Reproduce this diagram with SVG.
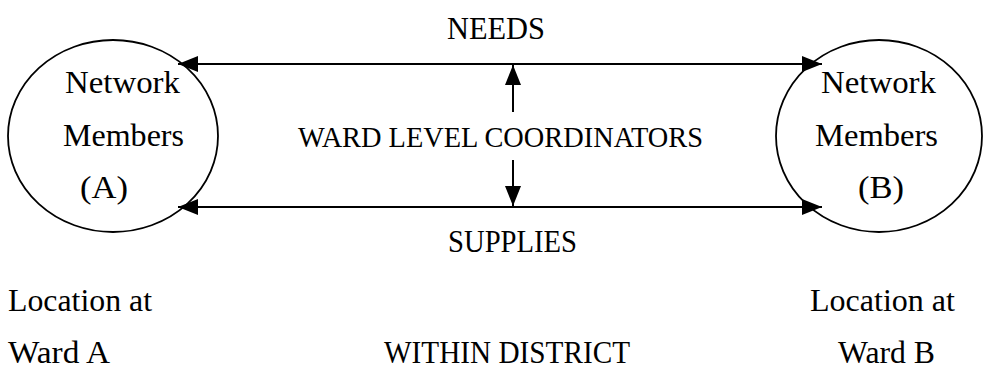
<svg xmlns="http://www.w3.org/2000/svg" width="984" height="371" viewBox="0 0 984 371">
<style>
text{font-family:'Liberation Serif','Times New Roman',Times,serif;font-size:31px;fill:#000}
.m{font-size:30px}
.s{font-size:30.5px}
.node{fill:none;stroke:#000;stroke-width:1.8}
.ln{stroke:#000;stroke-width:2;fill:none}
</style>
<defs>
<marker id="ah" viewBox="0 0 20 16" refX="20" refY="8" markerWidth="20" markerHeight="16" markerUnits="userSpaceOnUse" orient="auto-start-reverse">
<path d="M0,0 L20,8 L0,16 Z" fill="#000"/>
</marker>
</defs>
<rect width="984" height="371" fill="#fff"/>
<g id="nodeA">
<ellipse class="node" cx="113" cy="136" rx="105" ry="96"/>
<text x="65" y="93" textLength="115" lengthAdjust="spacingAndGlyphs">Network</text>
<text x="63" y="146" textLength="121" lengthAdjust="spacingAndGlyphs">Members</text>
<text x="80" y="198" textLength="48" lengthAdjust="spacingAndGlyphs">(A)</text>
</g>
<g id="nodeB">
<ellipse class="node" cx="879" cy="136" rx="103" ry="96"/>
<text x="821" y="93" textLength="115" lengthAdjust="spacingAndGlyphs">Network</text>
<text x="815" y="146" textLength="123" lengthAdjust="spacingAndGlyphs">Members</text>
<text x="858" y="198" textLength="46" lengthAdjust="spacingAndGlyphs">(B)</text>
</g>
<g id="coordinators">
<text class="m" x="298" y="147" textLength="405" lengthAdjust="spacingAndGlyphs">WARD LEVEL COORDINATORS</text>
</g>
<g id="connectors">
<line class="ln" x1="178" y1="64" x2="822" y2="64" marker-start="url(#ah)" marker-end="url(#ah)"/>
<line class="ln" x1="178" y1="207" x2="822" y2="207" marker-start="url(#ah)" marker-end="url(#ah)"/>
<line class="ln" x1="513" y1="112" x2="513" y2="65" marker-end="url(#ah)"/>
<line class="ln" x1="513" y1="160" x2="513" y2="206" marker-end="url(#ah)"/>
</g>
<g id="labels">
<text class="s" x="447" y="39" textLength="98" lengthAdjust="spacingAndGlyphs">NEEDS</text>
<text class="s" x="448" y="252" textLength="129" lengthAdjust="spacingAndGlyphs">SUPPLIES</text>
<text x="8" y="311" textLength="144" lengthAdjust="spacingAndGlyphs">Location at</text>
<text x="8" y="363" textLength="102" lengthAdjust="spacingAndGlyphs">Ward A</text>
<text class="s" x="384" y="363" textLength="246" lengthAdjust="spacingAndGlyphs">WITHIN DISTRICT</text>
<text x="810" y="311" textLength="145" lengthAdjust="spacingAndGlyphs">Location at</text>
<text x="838" y="363" textLength="97" lengthAdjust="spacingAndGlyphs">Ward B</text>
</g>
</svg>
